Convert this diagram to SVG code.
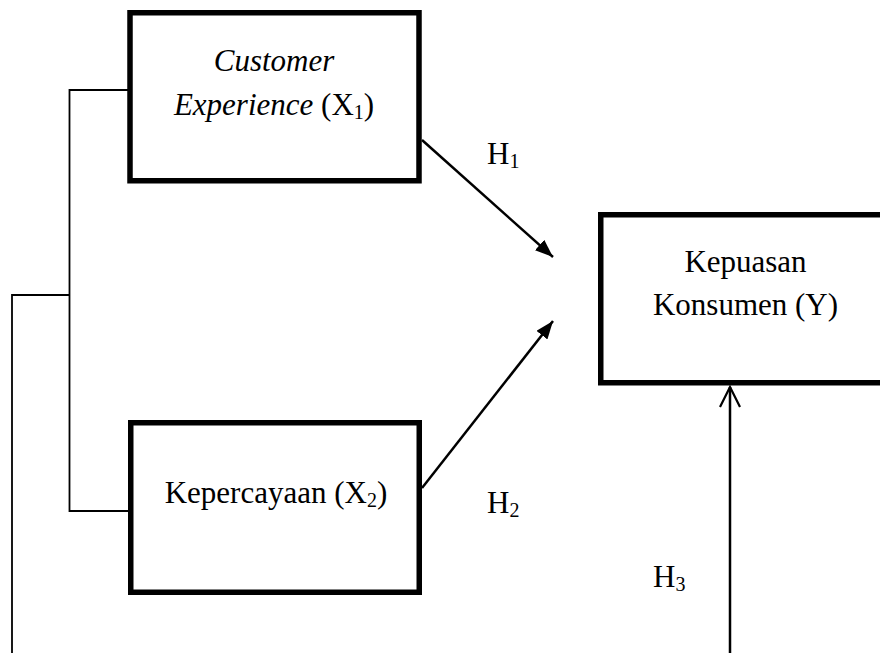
<svg xmlns="http://www.w3.org/2000/svg" width="880" height="653" viewBox="0 0 880 653">
<defs>
<style>
.box{fill:#fff;stroke:#000;stroke-width:5.5}
.t{font-family:"Liberation Serif","Times New Roman",serif;font-size:31px;fill:#000;text-anchor:middle}
.h{font-family:"Liberation Serif","Times New Roman",serif;font-size:31px;fill:#000}
.sub{font-size:20px}
.ln{fill:none;stroke:#000;stroke-width:1.8}
.ar{fill:none;stroke:#000;stroke-width:2.5}
</style>
<marker id="fa" markerUnits="userSpaceOnUse" markerWidth="18" markerHeight="14" refX="18" refY="7" orient="auto">
<path d="M0,0 L18,7 L0,14 z" fill="#000"/>
</marker>
<marker id="oa" markerUnits="userSpaceOnUse" markerWidth="24" markerHeight="24" refX="21" refY="12" orient="auto">
<path d="M1,2 L21,12 L1,22" fill="none" stroke="#000" stroke-width="2.2"/>
</marker>
</defs>
<rect width="880" height="653" fill="#fff"/>
<g id="connectors">
<polyline class="ln" points="128,90 69.5,90 69.5,511 128,511"/>
<polyline class="ln" points="70,295 12,295 12,653"/>
<line class="ar" x1="422" y1="140" x2="553" y2="257" marker-end="url(#fa)"/>
<line class="ar" x1="422" y1="488" x2="553" y2="321" marker-end="url(#fa)"/>
<line class="ar" x1="730" y1="653" x2="730" y2="387" marker-end="url(#oa)"/>
</g>
<g id="x1">
<rect class="box" x="130" y="12.75" width="289" height="168"/>
<text class="t" x="274" y="71"><tspan font-style="italic">Customer</tspan></text>
<text class="t" x="274" y="115"><tspan font-style="italic">Experience</tspan> (X<tspan class="sub" dy="4">1</tspan><tspan dy="-4">)</tspan></text>
</g>
<g id="x2">
<rect class="box" x="130.75" y="422.75" width="288.5" height="169.5"/>
<text class="t" x="276" y="503">Kepercayaan (X<tspan class="sub" dy="4">2</tspan><tspan dy="-4">)</tspan></text>
</g>
<g id="y">
<rect class="box" x="600.75" y="214.75" width="300" height="168"/>
<text class="t" x="745.5" y="272">Kepuasan</text>
<text class="t" x="745.5" y="315">Konsumen (Y)</text>
</g>
<g id="labels">
<text class="h" x="487" y="164">H<tspan class="sub" dy="4">1</tspan></text>
<text class="h" x="487" y="513">H<tspan class="sub" dy="4">2</tspan></text>
<text class="h" x="653" y="587">H<tspan class="sub" dy="4">3</tspan></text>
</g>
</svg>
